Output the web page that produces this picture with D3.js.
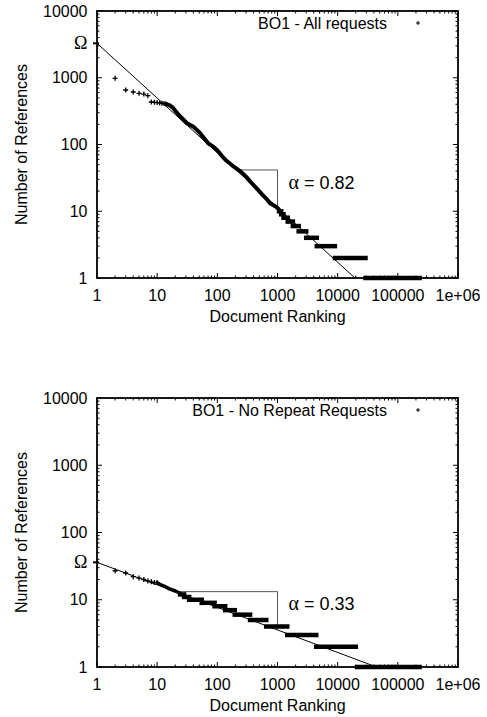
<!DOCTYPE html>
<html>
<head>
<meta charset="utf-8">
<script src="https://cdn.jsdelivr.net/npm/d3@7"></script>
<style>
  body { margin: 0; background: #fff; }
  svg text { font-family: 'Liberation Sans', Arial, Helvetica, sans-serif; font-size: 16px; fill: #000; }
  svg text.sym { font-family: 'Liberation Serif', 'Times New Roman', serif; }
</style>
</head>
<body>
<div id="visualizer"></div>
<script>
'use strict'

// axis ticks (shared by both panels)
const xTickValues = [1, 10, 100, 1000, 10000, 100000, 1000000]
const xTickLabels = ['1', '10', '100', '1000', '10000', '100000', '1e+06']
const yTickValues = [1, 10, 100, 1000, 10000]
const yTickLabels = ['1', '10', '100', '1000', '10000']

// BO1 - All requests
const allHeadRanks = [2, 3, 4, 5, 6, 7, 8, 9, 10, 11, 12, 13, 14]
const allHeadCounts = [980, 655, 612, 585, 570, 538, 433, 428, 424, 420, 415, 410, 405]
const allBodyRanks = [14, 16, 18, 20, 24, 31, 40, 51, 60, 70, 85, 100, 125, 142, 180, 238, 300, 350, 450, 550, 650, 750, 900, 1000, 1060]
const allBodyCounts = [405, 390, 360, 320, 265, 210, 185, 150, 125, 105, 93, 82, 64, 57, 48, 40, 33, 28, 22, 18, 15.5, 13.2, 12, 11.2, 10.6]
const allStepCounts = [10, 9, 8, 7, 6, 5, 4, 3, 2, 1]
const allStepFirst = [1060, 1150, 1260, 1480, 1800, 2250, 3000, 4500, 9000, 29000]
const allStepLast = [1150, 1260, 1480, 1800, 2250, 3000, 4500, 9000, 29000, 230000]
const allOmega = 3280
const allAlpha = 0.82
const allSlopeFrom = 206

// BO1 - No Repeat Requests
const noRepHeadRanks = [2, 3, 4, 5, 6, 7, 8, 9, 10]
const noRepHeadCounts = [27, 25, 22, 21, 20, 19, 18.5, 18, 18]
const noRepBodyRanks = [10, 11, 13, 16, 20, 24]
const noRepBodyCounts = [18, 17, 16, 14.5, 13.5, 12.5]
const noRepStepCounts = [12, 11, 10, 9, 8, 7, 6, 5, 4, 3, 2, 1]
const noRepStepFirst = [24, 28, 34, 55, 90, 135, 195, 350, 650, 1450, 4400, 21000]
const noRepStepLast = [28, 34, 55, 90, 135, 195, 350, 650, 1450, 4400, 20000, 230000]
const noRepOmega = 36
const noRepAlpha = 0.335
const noRepSlopeFrom = 20

class ZipfPlot {
  constructor (svg, conf) {
    this.svg = svg
    this.conf = conf
    this.x = d3.scaleLog().domain([1, 1e6]).range([conf.left, conf.right])
    this.y = d3.scaleLog().domain([1, 1e4]).range([conf.bottom, conf.top])
    this.layer = svg.append('g').attr('class', 'panel')
    this.makeTicks()
    this.makeTickLabels()
    this.makeAxisTitles()
    this.makeFitLine()
    this.makeSteps()
    this.makeBody()
    this.makeHead()
    this.makeFrame()
    this.makeLegend()
  }

  minorTicks (lo, hi) {
    const out = []
    for (let d = lo; d < hi; d *= 10) {
      for (let k = 2; k <= 9; k++) out.push(d * k)
    }
    return out
  }

  makeTicks () {
    const { left, right, top, bottom } = this.conf
    const g = this.layer.append('g').attr('class', 'ticks')
      .attr('stroke', '#000').attr('stroke-width', 1)
    const xt = xTickValues.map(v => ({ v, len: 5 }))
      .concat(this.minorTicks(1, 1e6).map(v => ({ v, len: 2.5 })))
    const yt = yTickValues.map(v => ({ v, len: 5 }))
      .concat(this.minorTicks(1, 1e4).map(v => ({ v, len: 2.5 })))
    for (const t of xt) {
      const px = this.x(t.v)
      g.append('line').attr('x1', px).attr('x2', px).attr('y1', bottom).attr('y2', bottom - t.len)
      g.append('line').attr('x1', px).attr('x2', px).attr('y1', top).attr('y2', top + t.len)
    }
    for (const t of yt) {
      const py = this.y(t.v)
      g.append('line').attr('x1', left).attr('x2', left + t.len).attr('y1', py).attr('y2', py)
      g.append('line').attr('x1', right).attr('x2', right - t.len).attr('y1', py).attr('y2', py)
    }
  }

  makeTickLabels () {
    const { left, bottom } = this.conf
    this.layer.append('g').attr('class', 'xlabels')
      .selectAll('text')
      .data(xTickValues)
      .enter()
      .append('text')
      .attr('x', d => this.x(d))
      .attr('y', bottom + 22.5)
      .attr('text-anchor', 'middle')
      .text((d, i) => xTickLabels[i])
    this.layer.append('g').attr('class', 'ylabels')
      .selectAll('text')
      .data(yTickValues)
      .enter()
      .append('text')
      .attr('x', left - 9.5)
      .attr('y', d => this.y(d) + 5.5)
      .attr('text-anchor', 'end')
      .text((d, i) => yTickLabels[i])
  }

  makeAxisTitles () {
    const { left, right, top, bottom } = this.conf
    this.layer.append('text')
      .attr('x', (left + right) / 2)
      .attr('y', bottom + 44)
      .attr('text-anchor', 'middle')
      .text('Document Ranking')
    const cy = (top + bottom) / 2
    this.layer.append('text')
      .attr('transform', `translate(27,${cy}) rotate(-90)`)
      .attr('text-anchor', 'middle')
      .text('Number of References')
  }

  makeFitLine () {
    const c = this.conf
    const rEnd = Math.pow(c.omega, 1 / c.alpha)
    const fit = r => c.omega * Math.pow(r, -c.alpha)
    this.layer.append('line')
      .attr('class', 'fit')
      .attr('x1', this.x(1)).attr('y1', this.y(c.omega))
      .attr('x2', this.x(rEnd)).attr('y2', this.y(1))
      .attr('stroke', '#000').attr('stroke-width', 1)
    // slope triangle
    const yTop = this.y(fit(c.slopeFrom))
    this.layer.append('path')
      .attr('class', 'slope')
      .attr('d', `M${this.x(c.slopeFrom)},${yTop}H${this.x(1000)}V${this.y(fit(1000))}`)
      .attr('fill', 'none')
      .attr('stroke', '#555').attr('stroke-width', 1)
    this.layer.append('text')
      .attr('x', this.x(1000) + 11)
      .attr('y', c.alphaLabelY)
      .style('font-size', '18px')
      .call(t => {
        t.append('tspan').attr('class', 'sym').style('font-family', "'Liberation Serif', serif").style('font-size', '20px').text('α')
        t.append('tspan').text(' = ' + c.alphaLabel)
      })
    // omega mark
    this.layer.append('line')
      .attr('x1', c.left - 4).attr('x2', c.left + 2)
      .attr('y1', this.y(c.omega)).attr('y2', this.y(c.omega))
      .attr('stroke', '#000').attr('stroke-width', 2)
    this.layer.append('text')
      .attr('class', 'sym')
      .attr('x', c.left - 9.5)
      .attr('y', this.y(c.omega) + 6)
      .attr('text-anchor', 'end')
      .style('font-size', '18px')
      .text('Ω')
  }

  makeSteps () {
    const c = this.conf
    this.layer.append('g').attr('class', 'steps')
      .selectAll('line')
      .data(c.stepCounts)
      .enter()
      .append('line')
      .attr('x1', (d, i) => this.x(c.stepFirst[i]))
      .attr('x2', (d, i) => this.x(c.stepLast[i]))
      .attr('y1', d => this.y(d))
      .attr('y2', d => this.y(d))
      .attr('stroke', '#000')
      .attr('stroke-width', 4.5)
      .attr('stroke-linecap', 'square')
  }

  makeBody () {
    const c = this.conf
    const pts = c.bodyRanks.map((r, i) => [r, c.bodyCounts[i]])
    this.layer.append('path')
      .attr('class', 'body')
      .attr('d', d3.line().x(d => this.x(d[0])).y(d => this.y(d[1]))(pts))
      .attr('fill', 'none')
      .attr('stroke', '#000')
      .attr('stroke-width', c.bodyWidth)
      .attr('stroke-linejoin', 'round')
      .attr('stroke-linecap', 'round')
  }

  makeHead () {
    const c = this.conf
    this.layer.append('g').attr('class', 'head')
      .selectAll('path')
      .data(c.headRanks)
      .enter()
      .append('path')
      .attr('transform', (d, i) => `translate(${this.x(d)},${this.y(c.headCounts[i])})`)
      .attr('d', 'M-2.5,0H2.5M0,-2.5V2.5')
      .attr('stroke', '#000')
      .attr('stroke-width', 1.3)
  }

  makeFrame () {
    const { left, right, top, bottom } = this.conf
    this.layer.append('rect')
      .attr('x', left).attr('y', top)
      .attr('width', right - left).attr('height', bottom - top)
      .attr('fill', 'none').attr('stroke', '#000').attr('stroke-width', 1.8)
  }

  makeLegend () {
    const c = this.conf
    this.layer.append('text')
      .attr('x', 387)
      .attr('y', c.top + 18)
      .attr('text-anchor', 'end')
      .text(c.title)
    this.layer.append('path')
      .attr('transform', `translate(418,${c.top + 12})`)
      .attr('d', 'M-2,0H2M0,-2V2')
      .attr('stroke', '#000')
      .attr('stroke-width', 1)
  }
}

const svg = d3.select('#visualizer')
  .append('svg')
  .attr('width', 487)
  .attr('height', 717)

new ZipfPlot(svg, {
  left: 97, right: 458, top: 11, bottom: 278,
  title: 'BO1 - All requests',
  headRanks: allHeadRanks, headCounts: allHeadCounts,
  bodyRanks: allBodyRanks, bodyCounts: allBodyCounts, bodyWidth: 4,
  stepCounts: allStepCounts, stepFirst: allStepFirst, stepLast: allStepLast,
  omega: allOmega, alpha: allAlpha, slopeFrom: allSlopeFrom,
  alphaLabel: '0.82', alphaLabelY: 189
})

new ZipfPlot(svg, {
  left: 97, right: 458, top: 398, bottom: 667,
  title: 'BO1 - No Repeat Requests',
  headRanks: noRepHeadRanks, headCounts: noRepHeadCounts,
  bodyRanks: noRepBodyRanks, bodyCounts: noRepBodyCounts, bodyWidth: 3.5,
  stepCounts: noRepStepCounts, stepFirst: noRepStepFirst, stepLast: noRepStepLast,
  omega: noRepOmega, alpha: noRepAlpha, slopeFrom: noRepSlopeFrom,
  alphaLabel: '0.33', alphaLabelY: 610
})
</script>
</body>
</html>
